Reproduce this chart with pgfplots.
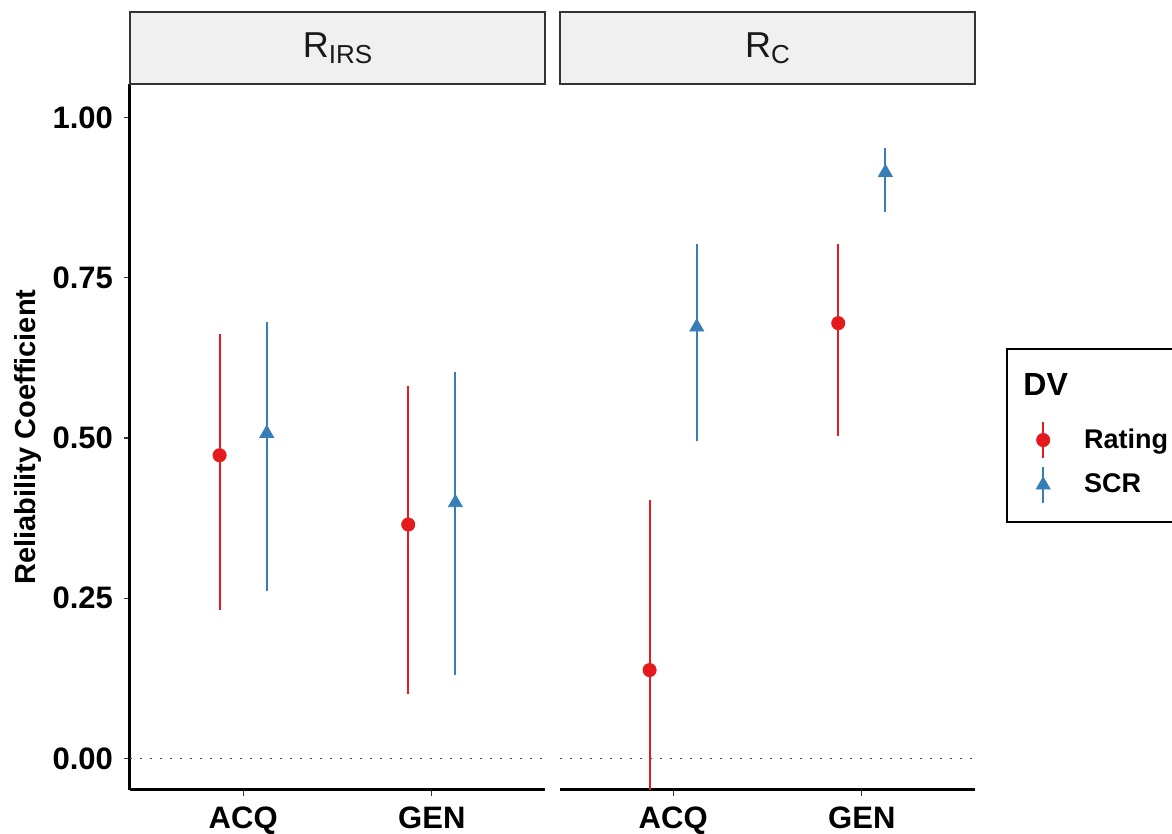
\documentclass[border=0pt]{standalone}
\usepackage{pgfplots}
\pgfplotsset{compat=1.18}
\usepackage{fontspec}
\setmainfont{Liberation Sans}

\definecolor{setred}{HTML}{E41A1C}
\definecolor{setblue}{HTML}{377EB8}
\definecolor{stripfill}{HTML}{F0F0F0}
\definecolor{stripline}{HTML}{333333}

\pgfplotsset{
  facet/.style={
    scale only axis, width=207.5pt, height=353pt,
    xmin=0.4, xmax=2.6, ymin=-0.049, ymax=1.052,
    xtick={1,2}, xticklabels={ACQ,GEN},
    axis x line*=bottom,
    axis line style={line width=1.5pt, -},
    tick style={stripline, line width=0.6pt},
    tick align=outside, major tick length=3pt,
    ticklabel style={font=\fontsize{15.5}{16}\selectfont\bfseries},
    xticklabel style={yshift=-2pt},
  },
  ci/.style={only marks, color=#1,
    /pgfplots/error bars/y dir=both, /pgfplots/error bars/y explicit,
    /pgfplots/error bars/error mark=none,
    /pgfplots/error bars/error bar style={line width=1pt, #1},
    legend image code/.code={
      \path[draw=none, fill=none] (-4pt,-10pt) rectangle (4pt,10pt);
      \draw[#1, line width=1pt] (0pt,-9pt) -- (0pt,9pt);
      \draw[##1] plot coordinates {(0pt,0pt)};}},
  rating/.style={ci=setred, mark=*, mark size=3.3pt},
  scr/.style={ci=setblue, mark=triangle*, mark size=4pt},
  zero/.style={black!75, line width=0.9pt, dash pattern=on 0.9pt off 4.1pt, forget plot},
}

\begin{document}
\begin{tikzpicture}
\useasboundingbox (0,0) rectangle (586pt,417pt);

% left facet: R_IRS
\begin{axis}[facet, at={(65pt,22pt)}, anchor=south west,
  axis y line*=left,
  ytick={0,0.25,0.5,0.75,1}, yticklabels={0.00,0.25,0.50,0.75,1.00},
  yticklabel style={xshift=-2pt},
  ylabel={Reliability Coefficient},
  every axis y label/.style={at={(axis description cs:-0.245,0.5)}, rotate=90, anchor=center,
    font=\fontsize{14.5}{15}\selectfont\bfseries},
]
\addplot[zero] coordinates {(0.4,0) (2.6,0)};
\addplot[rating] coordinates {
  (0.875,0.473) += (0,0.189) -= (0,0.242)
  (1.875,0.365) += (0,0.216) -= (0,0.264)
};
\addplot[scr] coordinates {
  (1.125,0.507) += (0,0.174) -= (0,0.245)
  (2.125,0.399) += (0,0.204) -= (0,0.269)
};
\end{axis}

% right facet: R_C
\begin{axis}[facet, at={(280pt,22pt)}, anchor=south west,
  axis y line=none,
  legend style={draw=none, fill=none, inner sep=0pt, outer sep=0pt,
    at={(axis description cs:1.145,0.524)}, anchor=north west,
    font=\fontsize{13.5}{14}\selectfont\bfseries, row sep=2.5pt,
    nodes={inner sep=0pt, anchor=west}, column sep=16.5pt},
  legend cell align=left,
]
\addplot[zero] coordinates {(0.4,0) (2.6,0)};
\addplot[rating] coordinates {
  (0.875,0.138) += (0,0.266) -= (0,0.22)
  (1.875,0.679) += (0,0.124) -= (0,0.176)
};
\addlegendentry{Rating}
\addplot[scr] coordinates {
  (1.125,0.673) += (0,0.130) -= (0,0.178)
  (2.125,0.914) += (0,0.038) -= (0,0.061)
};
\addlegendentry{SCR}
\end{axis}

% facet strips
\draw[stripline, line width=0.7pt, fill=stripfill] (65pt,375pt) rectangle (272.5pt,411pt);
\draw[stripline, line width=0.7pt, fill=stripfill] (280pt,375pt) rectangle (487.5pt,411pt);
\node[text=black!90] at (168.75pt,393pt) {\fontsize{18}{18}\selectfont R\raisebox{-3pt}{\fontsize{13}{13}\selectfont IRS}};
\node[text=black!90] at (383.75pt,393pt) {\fontsize{18}{18}\selectfont R\raisebox{-3pt}{\fontsize{13}{13}\selectfont C}};

% legend frame and title
\draw[black, line width=0.8pt] (503.5pt,156pt) rectangle (600pt,242.5pt);
\node[anchor=west, inner sep=0pt] at (511.5pt,224.5pt) {\fontsize{16}{16}\selectfont\bfseries DV};
\end{tikzpicture}
\end{document}
